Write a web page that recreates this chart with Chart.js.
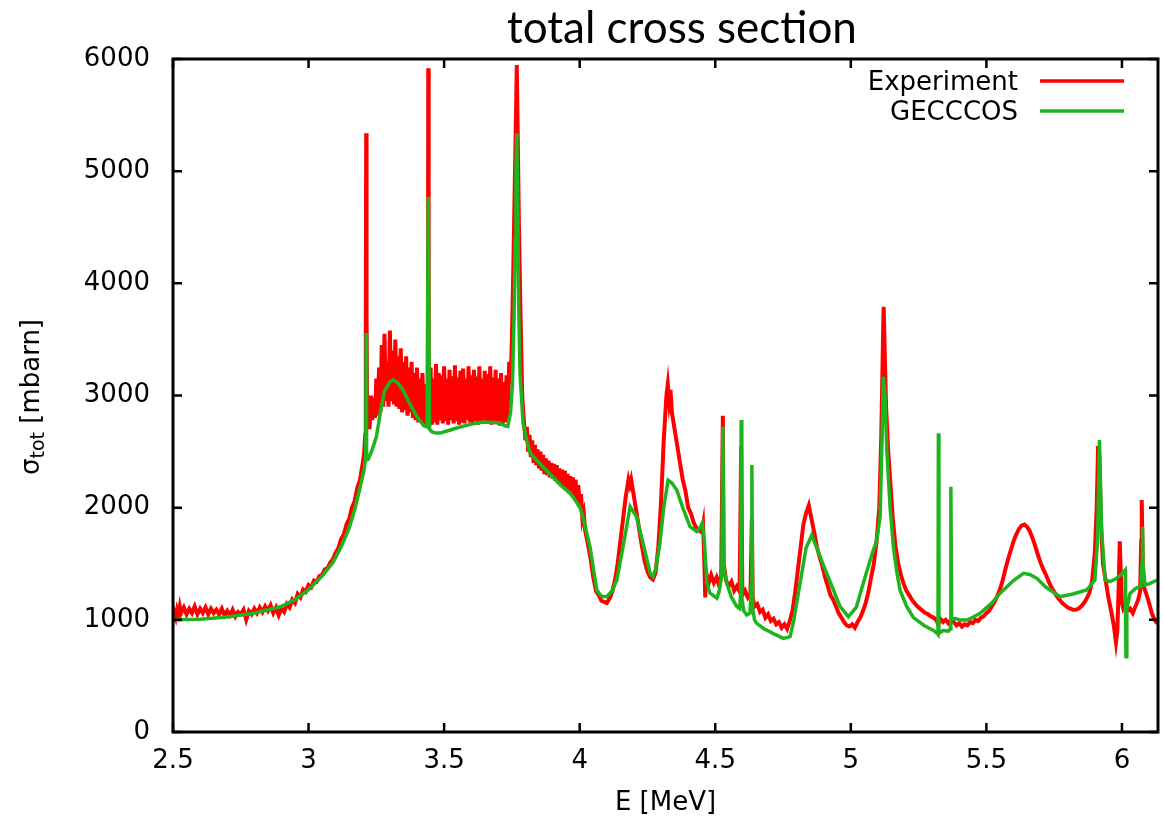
<!DOCTYPE html>
<html>
<head>
<meta charset="utf-8">
<script src="https://cdn.jsdelivr.net/npm/chart.js@4.4.1/dist/chart.umd.min.js"></script>
<style>
  html, body { margin: 0; padding: 0; background: #ffffff; }
  #wrap { width: 1163px; height: 827px; }
</style>
</head>
<body>
<div id="wrap"><canvas id="xsChart" width="1163" height="827"></canvas></div>
<script>
// total cross section, E [MeV] vs sigma_tot [mbarn]

const title = 'total cross section';
const seriesNames = ['Experiment', 'GECCCOS'];
const xTicks = [2.5, 3, 3.5, 4, 4.5, 5, 5.5, 6];
const yTicks = [0, 1000, 2000, 3000, 4000, 5000, 6000];

// measured data [E, sigma]
const experiment = [
  [2.500, 980], [2.505, 1060], [2.510, 1020], [2.515, 1090], [2.520, 1050], [2.525, 1120],
  [2.530, 1060], [2.540, 1110], [2.550, 1050], [2.560, 1100], [2.570, 1060], [2.580, 1120],
  [2.590, 1050], [2.600, 1100], [2.610, 1060], [2.620, 1110], [2.630, 1050], [2.640, 1100],
  [2.650, 1060], [2.660, 1090], [2.670, 1050], [2.680, 1100], [2.690, 1040], [2.700, 1080],
  [2.710, 1040], [2.720, 1090], [2.730, 1030], [2.740, 1070], [2.750, 1050], [2.760, 1090],
  [2.770, 1000], [2.780, 1080], [2.790, 1050], [2.800, 1100], [2.810, 1060], [2.820, 1110],
  [2.830, 1070], [2.840, 1120], [2.850, 1080], [2.860, 1130], [2.870, 1060], [2.880, 1110],
  [2.890, 1040], [2.900, 1100], [2.910, 1070], [2.920, 1140], [2.930, 1110], [2.940, 1180],
  [2.950, 1150], [2.960, 1230], [2.970, 1200], [2.980, 1270], [2.990, 1250], [3.000, 1310],
  [3.010, 1290], [3.020, 1350], [3.030, 1340], [3.040, 1390], [3.050, 1400], [3.060, 1450],
  [3.070, 1460], [3.080, 1510], [3.090, 1540], [3.100, 1600], [3.110, 1640], [3.120, 1720],
  [3.130, 1760], [3.140, 1850], [3.150, 1900], [3.160, 2000], [3.170, 2060], [3.180, 2180],
  [3.190, 2250], [3.200, 2400], [3.205, 2480], [3.209, 2650], [3.211, 3600], [3.2125, 5337],
  [3.214, 3700], [3.216, 2750],
  [3.220, 2950], [3.225, 2700], [3.230, 3000], [3.235, 2780], [3.240, 2980], [3.245, 2800],
  [3.250, 3150], [3.255, 2820], [3.260, 3250], [3.265, 2850], [3.270, 3450], [3.275, 2900],
  [3.280, 3550], [3.285, 2950], [3.290, 3300], [3.295, 2900], [3.300, 3580], [3.305, 2950],
  [3.310, 3400], [3.315, 2920], [3.320, 3500], [3.325, 2900], [3.330, 3350], [3.335, 2880],
  [3.340, 3420], [3.345, 2850], [3.350, 3300], [3.355, 2870], [3.360, 3350], [3.365, 2820],
  [3.370, 3250], [3.375, 2850], [3.380, 3300], [3.385, 2800], [3.390, 3200], [3.395, 2780],
  [3.400, 3250], [3.405, 2760], [3.410, 3150], [3.415, 2780], [3.420, 3200], [3.425, 2740],
  [3.430, 3100], [3.435, 2760], [3.440, 3000], [3.4415, 5917], [3.443, 3100], [3.445, 2720],
  [3.450, 3250], [3.455, 2740], [3.460, 3150], [3.465, 2760], [3.470, 3280], [3.475, 2740],
  [3.480, 3200], [3.485, 2780], [3.490, 3180], [3.495, 2750], [3.500, 3260], [3.505, 2770],
  [3.510, 3150], [3.515, 2740], [3.520, 3230], [3.525, 2780], [3.530, 3170], [3.535, 2750],
  [3.540, 3270], [3.545, 2770], [3.550, 3160], [3.555, 2740], [3.560, 3220], [3.565, 2760],
  [3.570, 3240], [3.575, 2750], [3.580, 3150], [3.585, 2780], [3.590, 3260], [3.595, 2760],
  [3.600, 3180], [3.605, 2750], [3.610, 3230], [3.615, 2770], [3.620, 3170], [3.625, 2740],
  [3.630, 3260], [3.635, 2760], [3.640, 3150], [3.645, 2780], [3.650, 3220], [3.655, 2750],
  [3.660, 3190], [3.665, 2770], [3.670, 3260], [3.675, 2740], [3.680, 3160], [3.685, 2760],
  [3.690, 3230], [3.695, 2750], [3.700, 3150], [3.705, 2730], [3.710, 3200], [3.715, 2740],
  [3.720, 3120], [3.725, 2760], [3.730, 3180], [3.735, 2780], [3.740, 3300], [3.745, 3100],
  [3.750, 3500], [3.755, 4100], [3.760, 4800], [3.765, 5500], [3.768, 5946], [3.771, 5400],
  [3.776, 4500], [3.782, 3700], [3.788, 3000], [3.792, 2850],
  [3.795, 2750], [3.800, 2600], [3.805, 2720], [3.810, 2500], [3.815, 2650], [3.820, 2450],
  [3.825, 2600], [3.830, 2400], [3.835, 2560], [3.840, 2380], [3.845, 2520], [3.850, 2350],
  [3.855, 2500], [3.860, 2330], [3.865, 2470], [3.870, 2300], [3.875, 2440], [3.880, 2290],
  [3.885, 2420], [3.890, 2270], [3.895, 2400], [3.900, 2260], [3.905, 2390], [3.910, 2240],
  [3.915, 2380], [3.920, 2220], [3.925, 2350], [3.930, 2200], [3.935, 2340], [3.940, 2180],
  [3.945, 2330], [3.950, 2150], [3.955, 2300], [3.960, 2130], [3.965, 2280], [3.970, 2120],
  [3.975, 2270], [3.980, 2100], [3.985, 2250], [3.990, 2050], [3.995, 2200], [4.000, 2000],
  [4.005, 2120], [4.010, 1900], [4.015, 1950], [4.020, 1800], [4.030, 1680], [4.040, 1550],
  [4.050, 1380], [4.060, 1260], [4.070, 1220], [4.080, 1170], [4.090, 1160], [4.100, 1150],
  [4.110, 1190], [4.120, 1250], [4.130, 1350], [4.140, 1500], [4.150, 1700], [4.160, 1900],
  [4.170, 2100], [4.180, 2250], [4.185, 2200], [4.190, 2250], [4.200, 2100], [4.210, 1950],
  [4.220, 1800], [4.230, 1650], [4.240, 1520], [4.250, 1430], [4.260, 1380], [4.270, 1360],
  [4.280, 1420], [4.290, 1650], [4.300, 2050], [4.310, 2600], [4.320, 3000], [4.325, 3100],
  [4.330, 2950], [4.335, 3050], [4.340, 2850], [4.350, 2700], [4.360, 2550], [4.370, 2400],
  [4.380, 2250], [4.390, 2150], [4.400, 2000], [4.410, 1950], [4.420, 1870], [4.430, 1820],
  [4.440, 1800], [4.450, 1780], [4.455, 1850], [4.460, 1500], [4.463, 1200], [4.467, 1420],
  [4.475, 1320], [4.485, 1400], [4.495, 1330], [4.505, 1380], [4.515, 1300], [4.522, 1400],
  [4.528, 2820], [4.531, 1500], [4.540, 1350], [4.550, 1300], [4.560, 1340], [4.570, 1260],
  [4.580, 1300], [4.590, 1250], [4.5955, 2543], [4.600, 1220], [4.610, 1260], [4.620, 1200],
  [4.630, 1240], [4.635, 1900], [4.638, 1200], [4.645, 1120], [4.655, 1140], [4.665, 1070],
  [4.675, 1090], [4.685, 1020], [4.695, 1050], [4.705, 990], [4.715, 1010], [4.725, 960],
  [4.735, 980], [4.745, 930], [4.755, 960], [4.765, 920], [4.775, 990], [4.785, 1080],
  [4.795, 1250], [4.805, 1450], [4.815, 1650], [4.825, 1850], [4.835, 1950], [4.845, 2020],
  [4.855, 1900], [4.865, 1780], [4.875, 1650], [4.885, 1560], [4.895, 1480], [4.905, 1380],
  [4.915, 1300], [4.925, 1220], [4.935, 1180], [4.945, 1120], [4.955, 1060], [4.965, 1020],
  [4.975, 980], [4.985, 950], [4.995, 940], [5.005, 960], [5.015, 930], [5.025, 980],
  [5.035, 1020], [5.045, 1080], [5.055, 1150], [5.065, 1250], [5.075, 1380], [5.085, 1500],
  [5.095, 1700], [5.105, 2000], [5.112, 2600], [5.118, 3400], [5.121, 3790], [5.124, 3500],
  [5.130, 2900], [5.138, 2500], [5.145, 2250], [5.155, 1900], [5.165, 1650], [5.175, 1500],
  [5.185, 1400], [5.195, 1320], [5.205, 1260], [5.215, 1220], [5.225, 1180], [5.235, 1150],
  [5.245, 1120], [5.255, 1100], [5.265, 1080], [5.275, 1060], [5.285, 1050], [5.295, 1030],
  [5.305, 1020], [5.315, 1000], [5.322, 960], [5.330, 1010], [5.340, 980], [5.350, 1000],
  [5.360, 970], [5.370, 1000], [5.380, 980], [5.390, 950], [5.400, 970], [5.410, 940],
  [5.420, 960], [5.430, 950], [5.440, 980], [5.450, 970], [5.460, 1000], [5.470, 990],
  [5.480, 1020], [5.490, 1030], [5.500, 1060], [5.510, 1080], [5.520, 1120], [5.530, 1160],
  [5.540, 1210], [5.550, 1270], [5.560, 1350], [5.570, 1450], [5.580, 1540], [5.590, 1620],
  [5.600, 1700], [5.610, 1760], [5.620, 1810], [5.630, 1840], [5.640, 1850], [5.650, 1830],
  [5.660, 1790], [5.670, 1730], [5.680, 1660], [5.690, 1580], [5.700, 1510], [5.710, 1450],
  [5.720, 1400], [5.730, 1340], [5.740, 1290], [5.750, 1250], [5.760, 1210], [5.770, 1180],
  [5.780, 1150], [5.790, 1130], [5.800, 1110], [5.810, 1100], [5.820, 1090], [5.830, 1090],
  [5.840, 1100], [5.850, 1120], [5.860, 1150], [5.870, 1190], [5.880, 1240], [5.890, 1350],
  [5.900, 1600], [5.907, 2000], [5.912, 2550], [5.917, 2450], [5.922, 1900], [5.930, 1500],
  [5.940, 1350], [5.950, 1200], [5.960, 1080], [5.970, 950], [5.978, 800], [5.983, 900],
  [5.988, 1300], [5.992, 1700], [5.996, 1400], [6.000, 1150], [6.005, 1100], [6.010, 1120],
  [6.020, 1080], [6.030, 1100], [6.040, 1060], [6.050, 1120], [6.060, 1180], [6.067, 1250],
  [6.071, 1700], [6.073, 2068], [6.076, 1600], [6.080, 1300], [6.090, 1230], [6.100, 1150],
  [6.110, 1060], [6.120, 1000], [6.130, 968]
];

// GECCCOS calculation [E, sigma]
const gecccos = [
  [2.500, 1000], [2.600, 1005], [2.700, 1025], [2.800, 1060], [2.850, 1090], [2.900, 1120],
  [2.950, 1180], [3.000, 1270], [3.050, 1390], [3.090, 1510], [3.120, 1650], [3.150, 1820],
  [3.170, 1980], [3.190, 2180], [3.205, 2340], [3.211, 2450], [3.2125, 3557], [3.214, 2425],
  [3.220, 2430], [3.235, 2520], [3.250, 2630], [3.265, 2850], [3.280, 3040], [3.300, 3120],
  [3.312, 3140], [3.330, 3110], [3.350, 3040], [3.375, 2920], [3.400, 2810], [3.425, 2730],
  [3.437, 2720], [3.4415, 4772], [3.446, 2700], [3.454, 2677], [3.470, 2665], [3.485, 2665],
  [3.520, 2690], [3.546, 2710], [3.600, 2745], [3.645, 2764], [3.680, 2760], [3.706, 2755],
  [3.725, 2730], [3.735, 2725], [3.745, 2850], [3.752, 3100], [3.758, 3700], [3.762, 4400],
  [3.765, 5000], [3.768, 5337], [3.771, 4800], [3.775, 3800], [3.780, 3200], [3.791, 2755],
  [3.805, 2600], [3.817, 2487], [3.850, 2400], [3.890, 2300], [3.930, 2200], [3.964, 2130],
  [3.980, 2080], [4.000, 2006], [4.012, 1917], [4.038, 1650], [4.063, 1266], [4.080, 1210],
  [4.100, 1206], [4.120, 1260], [4.137, 1355], [4.160, 1650], [4.186, 2009], [4.210, 1919],
  [4.240, 1620], [4.260, 1417], [4.270, 1385], [4.280, 1450], [4.296, 1684], [4.310, 2000],
  [4.326, 2246], [4.340, 2220], [4.358, 2157], [4.380, 2000], [4.407, 1830], [4.432, 1786],
  [4.445, 1830], [4.452, 1863], [4.460, 1700], [4.469, 1328], [4.480, 1239], [4.506, 1194],
  [4.515, 1260], [4.524, 1400], [4.528, 2722], [4.532, 1450], [4.542, 1328], [4.560, 1200],
  [4.580, 1117], [4.590, 1100], [4.594, 1250], [4.5955, 2781], [4.598, 1200], [4.605, 1080],
  [4.616, 1043], [4.628, 1060], [4.633, 1300], [4.635, 2380], [4.638, 1100], [4.645, 1000],
  [4.653, 969], [4.680, 920], [4.720, 870], [4.751, 835], [4.776, 850], [4.790, 1000],
  [4.813, 1328], [4.835, 1640], [4.856, 1756], [4.868, 1682], [4.900, 1480], [4.936, 1266],
  [4.960, 1120], [4.991, 1028], [5.020, 1110], [5.046, 1326], [5.070, 1520], [5.083, 1622],
  [5.095, 1700], [5.108, 1919], [5.115, 2600], [5.120, 3167], [5.126, 3000], [5.133, 2500],
  [5.145, 2000], [5.157, 1650], [5.170, 1420], [5.182, 1260], [5.206, 1120], [5.231, 1020],
  [5.270, 950], [5.305, 905], [5.318, 880], [5.3215, 870], [5.323, 2663], [5.325, 880],
  [5.340, 905], [5.360, 900], [5.366, 920], [5.369, 2187], [5.372, 1000], [5.385, 1014],
  [5.403, 998], [5.428, 998], [5.440, 1010], [5.477, 1058], [5.520, 1150], [5.550, 1236],
  [5.600, 1350], [5.637, 1415], [5.660, 1405], [5.686, 1370], [5.720, 1290], [5.772, 1206],
  [5.820, 1230], [5.870, 1266], [5.900, 1355], [5.910, 1700], [5.917, 2603], [5.925, 1800],
  [5.938, 1355], [5.956, 1340], [5.980, 1370], [6.000, 1410], [6.012, 1444], [6.0135, 1000],
  [6.015, 671], [6.018, 1100], [6.030, 1236], [6.050, 1280], [6.070, 1300], [6.074, 1500],
  [6.076, 1830], [6.078, 1500], [6.085, 1310], [6.100, 1320], [6.130, 1355]
];

const xMin = 2.5, xMax = 6.133, yMin = 0, yMax = 6000;

const tickFont = { family: 'DejaVu Sans', size: 26 };

// frame, inward ticks on all four sides, title, y label, legend
const gnuplotLook = {
  id: 'gnuplotLook',
  afterDatasetsDraw(chart) {
    const { ctx, chartArea: a, scales: { x, y } } = chart;
    ctx.save();
    ctx.strokeStyle = '#000';
    ctx.lineWidth = 2.5;
    const tl = 9;
    ctx.beginPath();
    xTicks.forEach(v => {
      const px = x.getPixelForValue(v);
      ctx.moveTo(px, a.bottom); ctx.lineTo(px, a.bottom - tl);
      ctx.moveTo(px, a.top); ctx.lineTo(px, a.top + tl);
    });
    yTicks.forEach(v => {
      const py = y.getPixelForValue(v);
      ctx.moveTo(a.left, py); ctx.lineTo(a.left + tl, py);
      ctx.moveTo(a.right, py); ctx.lineTo(a.right - tl, py);
    });
    ctx.stroke();
    ctx.lineWidth = 3;
    ctx.strokeRect(a.left, a.top, a.right - a.left, a.bottom - a.top);

    // legend
    ctx.font = '26px "DejaVu Sans"';
    ctx.fillStyle = '#000';
    ctx.textAlign = 'right';
    ctx.textBaseline = 'alphabetic';
    chart.data.datasets.forEach((ds, i) => {
      const yb = 89.5 + i * 30;
      ctx.fillText(ds.label, 1018, yb);
      ctx.strokeStyle = ds.borderColor;
      ctx.lineWidth = 3.5;
      ctx.beginPath();
      ctx.moveTo(1040, yb - 8.5);
      ctx.lineTo(1124, yb - 8.5);
      ctx.stroke();
    });

    // title
    ctx.font = '44px Lato';
    ctx.textAlign = 'center';
    ctx.fillText(title, 682, 43);

    // y axis label with subscript
    ctx.translate(38.5, 397);
    ctx.rotate(-Math.PI / 2);
    ctx.textAlign = 'left';
    const big = '26px "DejaVu Sans"', small = '19px "DejaVu Sans"';
    ctx.font = big; const wS = ctx.measureText('σ').width;
    ctx.font = small; const wSub = ctx.measureText('tot').width;
    ctx.font = big; const wRest = ctx.measureText(' [mbarn]').width;
    let cx = -(wS + wSub + wRest) / 2;
    ctx.font = big; ctx.fillText('σ', cx, 0); cx += wS;
    ctx.font = small; ctx.fillText('tot', cx, 5); cx += wSub;
    ctx.font = big; ctx.fillText(' [mbarn]', cx, 0);
    ctx.restore();
  }
};

const ctx = document.getElementById('xsChart').getContext('2d');
const xsChart = new Chart(ctx, {
  type: 'line',
  data: {
    datasets: [
      {
        label: seriesNames[0],
        data: experiment.map(p => ({ x: p[0], y: p[1] })),
        borderColor: '#ff0000',
        borderWidth: 4,
        pointRadius: 0,
        tension: 0,
        order: 2
      },
      {
        label: seriesNames[1],
        data: gecccos.map(p => ({ x: p[0], y: p[1] })),
        borderColor: '#1eb41e',
        borderWidth: 3.5,
        pointRadius: 0,
        tension: 0,
        order: 1
      }
    ]
  },
  options: {
    responsive: false,
    animation: false,
    devicePixelRatio: 1,
    layout: { padding: { top: 59, right: 5, left: 0, bottom: 0 } },
    plugins: {
      legend: { display: false },
      tooltip: { enabled: false }
    },
    scales: {
      x: {
        type: 'linear',
        min: xMin,
        max: xMax,
        afterBuildTicks: s => { s.ticks = xTicks.map(v => ({ value: v })); },
        afterFit: s => { s.height = 95; },
        grid: { display: false, drawTicks: false },
        border: { display: false },
        ticks: {
          font: tickFont,
          color: '#000',
          padding: 14,
          maxRotation: 0,
          callback: v => String(v)
        },
        title: {
          display: true,
          text: 'E [MeV]',
          font: { family: 'DejaVu Sans', size: 26 },
          color: '#000',
          padding: { top: 0, bottom: 8 }
        }
      },
      y: {
        type: 'linear',
        min: yMin,
        max: yMax,
        afterBuildTicks: s => { s.ticks = yTicks.map(v => ({ value: v })); },
        afterFit: s => { s.width = 173; },
        grid: { display: false, drawTicks: false },
        border: { display: false },
        ticks: {
          font: tickFont,
          color: '#000',
          padding: 23,
          callback: v => String(v)
        }
      }
    }
  },
  plugins: [gnuplotLook]
});
</script>
</body>
</html>
